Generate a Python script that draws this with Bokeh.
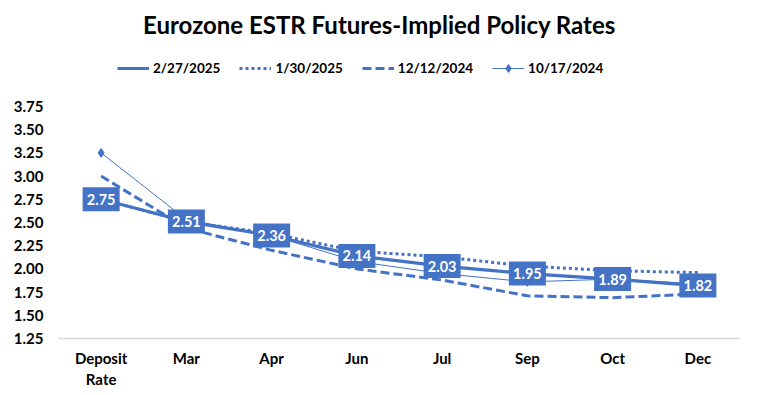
from bokeh.plotting import figure
from bokeh.models import (Range1d, FactorRange, FixedTicker, NumeralTickFormatter,
                          Legend, LegendItem, ColumnDataSource, Label)
from bokeh.core.properties import value
from bokeh.embed import file_html
from bokeh.resources import INLINE

categories = ["Deposit\nRate", "Mar", "Apr", "Jun", "Jul", "Sep", "Oct", "Dec"]
s_2025_02_27 = [2.75, 2.51, 2.36, 2.14, 2.03, 1.95, 1.89, 1.82]
s_2025_01_30 = [2.75, 2.51, 2.38, 2.19, 2.13, 2.03, 1.98, 1.96]
s_2024_12_12 = [3.00, 2.44, 2.20, 2.00, 1.88, 1.71, 1.69, 1.73]
s_2024_10_17 = [3.25, 2.53, 2.36, 2.08, 1.95, 1.86, 1.89, 1.84]
y_ticks = [1.25, 1.50, 1.75, 2.00, 2.25, 2.50, 2.75, 3.00, 3.25, 3.50, 3.75]
title_text = "Eurozone ESTR Futures-Implied Policy Rates"

BLUE = "#4472C4"
FONT = "Lato"

p = figure(width=758, height=395, output_backend="svg", toolbar_location=None,
           x_range=FactorRange(factors=categories), y_range=Range1d(1.25, 4.892),
           min_border_left=58, min_border_right=18, min_border_bottom=57,
           min_border_top=0)

p.grid.visible = False
p.outline_line_color = None
p.background_fill_color = "white"
p.border_fill_color = "white"

p.yaxis.ticker = FixedTicker(ticks=y_ticks)
p.yaxis.formatter = NumeralTickFormatter(format="0.00")
p.yaxis.axis_line_color = None
p.yaxis.major_tick_line_color = None
p.yaxis.minor_tick_line_color = None
p.yaxis.major_tick_out = 0
p.yaxis.major_tick_in = 0
p.yaxis.major_label_standoff = 15
p.xaxis.axis_line_color = "#d9d9d9"
p.xaxis.axis_line_width = 1.5
p.xaxis.major_tick_line_color = None
p.xaxis.minor_tick_line_color = None
p.xaxis.major_tick_out = 0
p.xaxis.major_tick_in = 0
p.xaxis.major_label_standoff = 10
p.xaxis.major_label_text_line_height = 1.2
for ax in (p.xaxis, p.yaxis):
    ax.major_label_text_font = FONT
    ax.major_label_text_font_size = "15px"
    ax.major_label_text_font_style = "bold"
    ax.major_label_text_color = "#000000"

src = ColumnDataSource(dict(x=categories, a=s_2025_02_27, b=s_2025_01_30,
                            c=s_2024_12_12, d=s_2024_10_17,
                            lab=["%.2f" % v for v in s_2025_02_27]))

r_a = p.line("x", "a", source=src, line_color=BLUE, line_width=3.2)
r_b = p.line("x", "b", source=src, line_color=BLUE, line_width=3, line_dash="3 3")
r_c = p.line("x", "c", source=src, line_color=BLUE, line_width=3, line_dash="9 4")
r_d = p.line("x", "d", source=src, line_color=BLUE, line_width=1)
r_dm = p.scatter("x", "d", source=src, marker="diamond", size=9, color=BLUE)

p.rect("x", "a", source=src, width=37, height=24, width_units="screen",
       height_units="screen", fill_color=BLUE, line_color=None)
p.text("x", "a", text="lab", source=src, text_align="center", text_baseline="middle",
       text_color="white", text_font=value(FONT), text_font_size="14.5px",
       text_font_style="bold")

title = Label(x=321, y=314, x_units="screen", y_units="screen", text=title_text,
              text_align="center", text_baseline="alphabetic", text_font=FONT,
              text_font_size="24px", text_font_style="bold", text_color="#000000")
p.add_layout(title)

legend = Legend(items=[
    LegendItem(label="2/27/2025", renderers=[r_a]),
    LegendItem(label="1/30/2025", renderers=[r_b]),
    LegendItem(label="12/12/2024", renderers=[r_c]),
    LegendItem(label="10/17/2024", renderers=[r_d, r_dm]),
], orientation="horizontal", location=(59, 260))
legend.border_line_color = None
legend.background_fill_alpha = 0
legend.label_text_font = FONT
legend.label_text_font_size = "13.5px"
legend.label_text_font_style = "bold"
legend.label_text_color = "#000000"
legend.glyph_width = 32
legend.label_standoff = 4
legend.spacing = 19
legend.padding = 4
legend.margin = 0
p.add_layout(legend)

open("out.html", "w").write(file_html(p, INLINE))
